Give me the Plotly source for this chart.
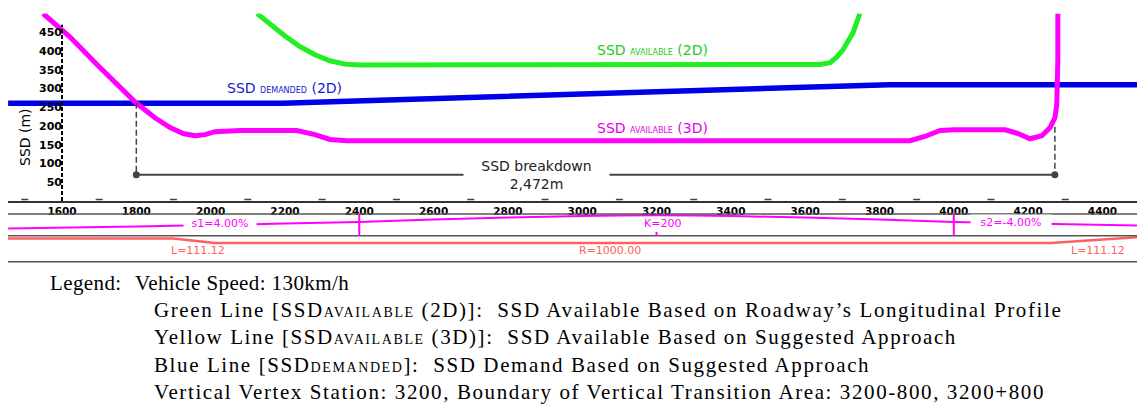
import plotly.graph_objects as go

W, H = 1137, 407

# ---------------- data ----------------
tick_stations = [1600, 1800, 2000, 2200, 2400, 2600, 2800, 3000, 3200, 3400, 3600, 3800, 4000, 4200, 4400]
minor_stations = [1500, 1700, 1900, 2100, 2300, 2500, 2700, 2900, 3100, 3300, 3500, 3700, 3900, 4100, 4300]
y_ticks = [50, 100, 150, 200, 250, 300, 350, 400, 450]

ssd3d_station = [1549, 1621, 1694, 1756, 1799, 1850, 1891, 1926, 1958, 1985, 2012, 2079, 2232, 2281,
                 2321, 2367, 3882, 3922, 3963, 4003, 4138, 4173, 4205, 4237, 4259, 4272, 4277, 4280, 4280]
ssd3d_value = [500, 438, 364, 302, 262, 222, 196, 180, 174, 177, 185, 188, 188, 177,
               164, 161, 161, 172, 188, 190, 190, 180, 166, 174, 196, 222, 256, 377, 500]

ssd2d_station = [2125, 2160, 2200, 2240, 2281, 2321, 2362, 2402, 3640, 3667, 3686, 3702, 3729, 3747]
ssd2d_value = [500, 470, 440, 412, 390, 374, 365, 363, 364, 369, 385, 404, 449, 500]

demand_station = [1455, 2194, 3826, 4493]
demand_value = [261, 261, 310, 310]

breakdown_start = 1800
breakdown_length = 2472
breakdown_level = 70
breakdown_top_left = 262
breakdown_top_right = 198

prof_station = [1455, 1800, 2000, 2400, 2600, 2800, 3000, 3200, 3400, 3600, 3800, 4000, 4200, 4493]
prof_elev = [-26, -18, -12, 0, 10, 18, 24, 27, 24, 18, 10, 0, -6, -14]
bvc, pvi, evc = 2400, 3200, 4000

curv_station = [1455, 1900, 2011, 4260, 4493]
curv_value = [0, 0, 1, 1, -0.3]

legend_head = ["Legend:", "Vehicle Speed: 130km/h"]
legend_lines = [
    "Green Line [SSD<span style='font-size:14px'>AVAILABLE</span> (2D)]:\u00a0 SSD Available Based on Roadway\u2019s Longitudinal Profile",
    "Yellow Line [SSD<span style='font-size:14px'>AVAILABLE</span> (3D)]:\u00a0 SSD Available Based on Suggested Approach",
    "Blue Line [SSD<span style='font-size:14px'>DEMANDED</span>]:\u00a0 SSD Demand Based on Suggested Approach",
    "Vertical Vertex Station: 3200, Boundary of Vertical Transition Area: 3200-800, 3200+800",
]

# ---------------- colours / fonts ----------------
MAG = "#ff00ff"
GRN = "#22ee22"
BLU = "#0000e6"
RED = "#ff5f5f"
GRAY = "#444444"
CAD = "DejaVu Sans"
SERIF = "Liberation Serif, Times New Roman, serif"


def py(px):  # pixel row -> paper fraction
    return (H - px) / H


x_left = 1454.7
x_right = 4493.0
x_dom0 = 8 / W

fig = go.Figure()

fig.add_trace(go.Scatter(x=demand_station, y=demand_value, mode="lines",
                         line=dict(color=BLU, width=5.5), hoverinfo="skip"))
fig.add_trace(go.Scatter(x=ssd2d_station, y=ssd2d_value, mode="lines",
                         line=dict(color=GRN, width=5), hoverinfo="skip"))
fig.add_trace(go.Scatter(x=ssd3d_station, y=ssd3d_value, mode="lines",
                         line=dict(color=MAG, width=5), hoverinfo="skip"))

b_end = breakdown_start + breakdown_length
fig.add_trace(go.Scatter(x=[breakdown_start, breakdown_start], y=[breakdown_top_left, breakdown_level],
                         mode="lines", line=dict(color=GRAY, width=1.5, dash="6px,3px"), hoverinfo="skip"))
fig.add_trace(go.Scatter(x=[b_end, b_end], y=[breakdown_top_right, breakdown_level],
                         mode="lines", line=dict(color=GRAY, width=1.5, dash="6px,3px"), hoverinfo="skip"))
fig.add_trace(go.Scatter(x=[breakdown_start, b_end], y=[breakdown_level, breakdown_level],
                         mode="lines+markers", line=dict(color=GRAY, width=1.8),
                         marker=dict(color=GRAY, size=7), hoverinfo="skip"))

fig.add_trace(go.Scatter(x=minor_stations, y=[4] * len(minor_stations), mode="markers",
                         marker=dict(symbol="line-ew", size=5, line=dict(color=GRAY, width=1.5)),
                         hoverinfo="skip"))

fig.add_trace(go.Scatter(x=prof_station, y=prof_elev, mode="lines", xaxis="x", yaxis="y2",
                         line=dict(color=MAG, width=2, shape="spline", smoothing=0.5), hoverinfo="skip"))
fig.add_trace(go.Scatter(x=curv_station, y=curv_value, mode="lines", xaxis="x", yaxis="y3",
                         line=dict(color=RED, width=2.5), hoverinfo="skip"))

shapes = []
shapes.append(dict(type="line", xref="x", yref="y", x0=tick_stations[0], x1=tick_stations[0],
                   y0=0, y1=470, line=dict(color="black", width=2, dash="4px,2px")))
for prow in [214, 235.7, 261.7]:
    shapes.append(dict(type="line", xref="paper", yref="paper", x0=x_dom0, x1=1,
                       y0=py(prow), y1=py(prow), line=dict(color="#555555", width=1.5)))
for s in [bvc, evc]:
    shapes.append(dict(type="line", xref="x", yref="y2 domain", x0=s, x1=s, y0=0, y1=1,
                       line=dict(color=MAG, width=2)))
shapes.append(dict(type="line", xref="x", yref="y2 domain", x0=pvi, x1=pvi, y0=0, y1=0.18,
                   line=dict(color=MAG, width=2)))

ann = []
small = lambda t: f"<span style='font-size:8px'>{t}</span>"
ann.append(dict(x=3188, y=404, xref="x", yref="y", text=f"SSD {small('AVAILABLE')} (2D)",
                showarrow=False, font=dict(family=CAD, size=14, color="#22cc22")))
ann.append(dict(x=2200, y=302, xref="x", yref="y", text=f"SSD {small('DEMANDED')} (2D)",
                showarrow=False, font=dict(family=CAD, size=14, color="#1a1acc")))
ann.append(dict(x=3188, y=196, xref="x", yref="y", text=f"SSD {small('AVAILABLE')} (3D)",
                showarrow=False, font=dict(family=CAD, size=14, color="#e600e6")))
ann.append(dict(x=2878, y=breakdown_level, xref="x", yref="y",
                text=f"SSD breakdown<br>{breakdown_length:,}m", showarrow=False,
                bgcolor="white", width=143, align="center",
                font=dict(family=CAD, size=14, color="#222222")))
ann.append(dict(x=2025, y=prof_elev[0] + 22, xref="x", yref="y2", text="s1=4.00%", showarrow=False,
                bgcolor="white", width=70, font=dict(family=CAD, size=11, color=MAG)))
ann.append(dict(x=4154, y=prof_elev[-1] + 12, xref="x", yref="y2", text="s2=-4.00%", showarrow=False,
                bgcolor="white", width=78, font=dict(family=CAD, size=11, color=MAG)))
ann.append(dict(x=pvi, xshift=6, y=-6, xref="x", yref="y2", text="K=200", showarrow=False,
                font=dict(family=CAD, size=11, color=MAG)))
ann.append(dict(x=1966, y=2.71, xref="x", yref="y3", text="L=111.12", showarrow=False,
                font=dict(family=CAD, size=11, color=RED)))
ann.append(dict(x=3075, y=2.71, xref="x", yref="y3", text="R=1000.00", showarrow=False,
                font=dict(family=CAD, size=11, color=RED)))
ann.append(dict(x=4388, y=2.71, xref="x", yref="y3", text="L=111.12", showarrow=False,
                font=dict(family=CAD, size=11, color=RED)))

# y-axis title
ann.append(dict(x=25 / W, y=py(137), xref="paper", yref="paper", text="SSD (m)", textangle=-90,
                xanchor="center", yanchor="middle",
                showarrow=False, font=dict(family=CAD, size=14, color="black")))

# legend text block
ls1 = "<span style='letter-spacing:0.4px'>{}</span>"
ls2 = "<span style='letter-spacing:1.6px'>{}</span>"
ann.append(dict(x=48 / W, y=py(283), xref="paper", yref="paper", xanchor="left", yanchor="middle",
                text=ls1.format(legend_head[0]), showarrow=False, font=dict(family=SERIF, size=21, color="black")))
ann.append(dict(x=133 / W, y=py(283), xref="paper", yref="paper", xanchor="left", yanchor="middle",
                text=ls1.format(legend_head[1]), showarrow=False, font=dict(family=SERIF, size=21, color="black")))
for i, t in enumerate(legend_lines):
    ann.append(dict(x=152 / W, y=py(310 + 27.4 * i), xref="paper", yref="paper", xanchor="left",
                    yanchor="middle", text=ls2.format(t), showarrow=False,
                    font=dict(family=SERIF, size=21, color="black")))

fig.update_layout(
    width=W, height=H, margin=dict(l=0, r=0, t=0, b=0, autoexpand=False),
    paper_bgcolor="white", plot_bgcolor="white", showlegend=False,
    xaxis=dict(domain=[x_dom0, 1], range=[x_left, x_right], tickvals=tick_stations,
               ticktext=[str(v) for v in tick_stations], showgrid=False, zeroline=False,
               showline=True, linecolor="#333333", linewidth=1.5, ticks="", automargin=False,
               tickfont=dict(family=CAD, size=10.5, color="black", weight="bold"), anchor="y"),
    yaxis=dict(domain=[py(201), py(13.5)], range=[0, 500], tickvals=y_ticks,
               showgrid=False, zeroline=False, showline=False, ticks="", automargin=False,
               anchor="free", position=62 / W,
               tickfont=dict(family=CAD, size=11, color="black", weight="bold")),
    yaxis2=dict(domain=[py(235.7), py(214)], range=[-54.8, 32], visible=False, anchor="x"),
    yaxis3=dict(domain=[py(261.7), py(235.7)], range=[5.16, -0.622], visible=False, anchor="x"),
    shapes=shapes, annotations=ann,
)

fig.write_html("out.html", config={"displayModeBar": False},
               post_script="document.body.style.margin='0';document.body.style.overflow='hidden';")
